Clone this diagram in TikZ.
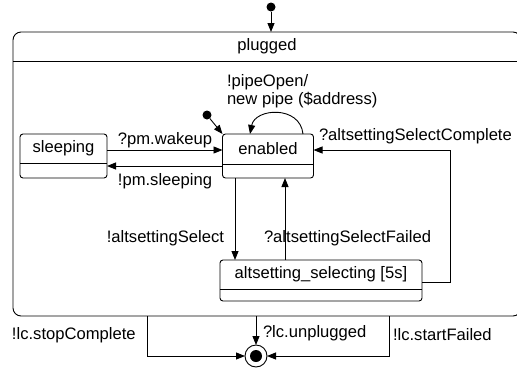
\documentclass[tikz,border=0pt]{standalone}
\usepackage{fontspec}
\setmainfont{Liberation Sans}
\usetikzlibrary{arrows.meta,calc}
\begin{document}
\begin{tikzpicture}[x=1pt,y=-1pt,
  every node/.style={font=\fontsize{16.6}{18}\selectfont, inner sep=0pt, outer sep=0pt},
  line/.style={draw=black, line width=0.9pt},
  arr/.style={line, -{Triangle[length=9pt,width=7pt]}},
  statebox/.style={draw=black, line width=0.9pt, rounded corners=3pt, rectangle},
  lbl/.style={anchor=west},
  dot/.style={circle, fill=black, minimum size=9pt}
]
\useasboundingbox (0,0) rectangle (517,368);
\clip (0,0) rectangle (517,368);

% composite state
\node[draw=black, line width=0.9pt, rounded corners=8pt, minimum width=508pt, minimum height=284pt] (plugged) at (267,174) {};
\draw[line] (plugged.west |- 0,61) -- (plugged.east |- 0,61);
\node (pluggedtxt) at (267,46) {plugged};

% states
\node[statebox, minimum width=87pt, minimum height=44pt] (sleeping) at (63.5,156) {};
\draw[line] (sleeping.west |- 0,163) -- (sleeping.east |- 0,163);
\node (sleepingtxt) at (63.5,148) {sleeping};

\node[statebox, minimum width=91pt, minimum height=44pt] (enabled) at (268,156) {};
\draw[line] (enabled.west |- 0,164) -- (enabled.east |- 0,164);
\node (enabledtxt) at (268,149) {enabled};

\node[statebox, minimum width=202pt, minimum height=41pt] (alt) at (321,280.5) {};
\draw[line] (alt.west |- 0,289) -- (alt.east |- 0,289);
\node (alttxt) at (321,274) {altsetting\_selecting [5s]};

% initial and final states
\node[dot] (init0) at (271,7) {};
\node[dot] (init1) at (207,115) {};
\node[circle, draw=black, line width=0.9pt, fill=white, minimum size=22pt] (final) at (256,356) {};
\node[circle, fill=black, minimum size=12pt] (finaldot) at (final.center) {};

% connectors
\draw[arr] (init0) -- (init0 |- plugged.north);
\draw[arr] (init1) -- (enabled.north west);
\draw[arr] (sleeping.east |- 0,150) -- (enabled.west |- 0,150);
\draw[arr] (enabled.west |- 0,166) -- (sleeping.east |- 0,166);
\draw[arr] (enabled.south -| 235,0) -- (alt.north -| 235,0);
\draw[arr] (alt.north -| 285,0) -- (enabled.south -| 285,0);
\draw[arr] (alt.east |- 0,282) -| (450,150) -- (enabled.east |- 0,150);
\draw[arr] (enabled.north -| 303,0) .. controls (300,105) and (255,108) .. (enabled.north -| 250,0);
\draw[arr] (plugged.south -| final.north) -- (final.north);
\draw[arr] (plugged.south -| 147,0) |- (final.west);
\draw[arr] (plugged.south -| 389,0) |- (final.east);

% labels
\node (l1) at (165,140) {?pm.wakeup};
\node (l2) at (165,181) {!pm.sleeping};
\node[lbl, align=left] (l3) at (227,91) {!pipeOpen/\\new pipe (\$address)};
\node[lbl] (l4) at (319,136) {?altsettingSelectComplete};
\node[anchor=east] (l5) at (224,238) {!altsettingSelect};
\node[lbl] (l6) at (264,238) {?altsettingSelectFailed};
\node[lbl] (l7) at (263,333) {?lc.unplugged};
\node[lbl] (l8) at (12,335) {!lc.stopComplete};
\node[lbl] (l9) at (393,335) {!lc.startFailed};
\end{tikzpicture}
\end{document}
